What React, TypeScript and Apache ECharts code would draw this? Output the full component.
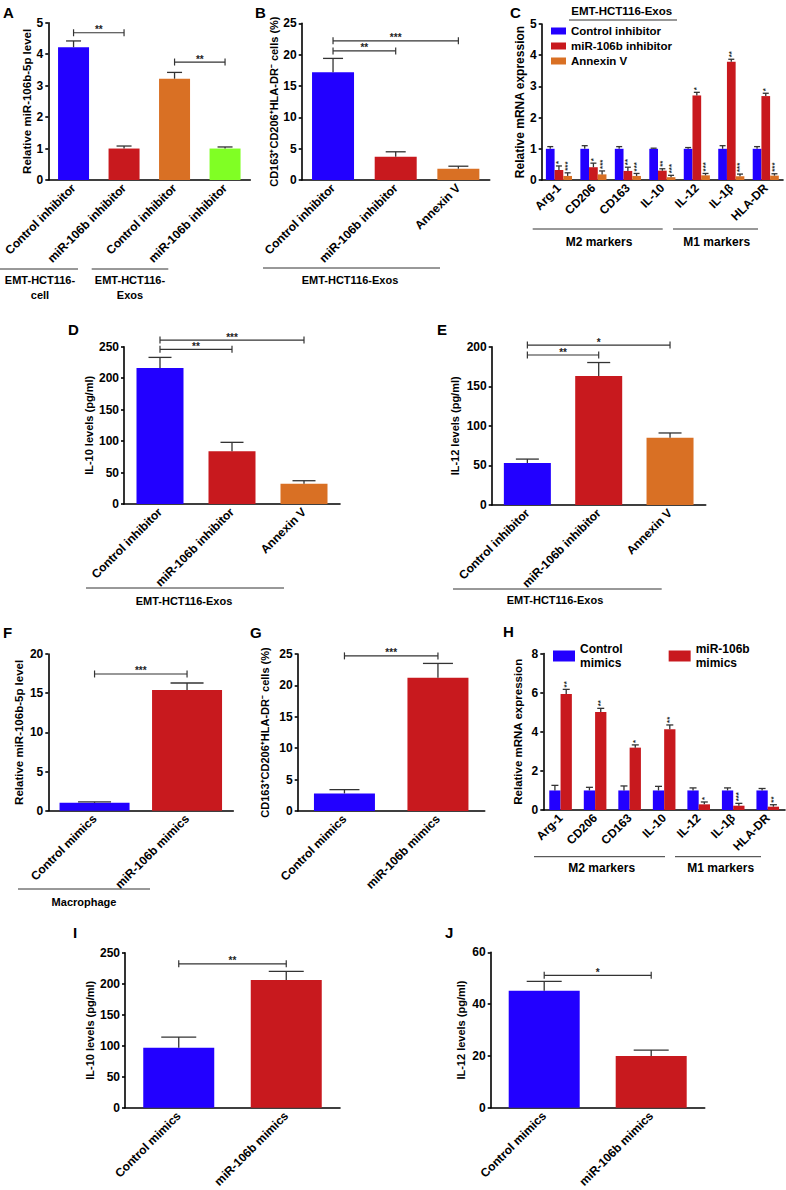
import React, { useEffect, useRef } from "react";
import * as echarts from "echarts";

const FONT = '"Liberation Sans", Arial, Helvetica, sans-serif';

// ---------- Panel A ----------
const aCategories = ["Control inhibitor", "miR-106b inhibitor", "Control inhibitor", "miR-106b inhibitor"];
const aValues = [4.22, 1.0, 3.22, 1.0];
const aErrors = [4.42, 1.08, 3.42, 1.05];
const aBrackets = [[0, 4.68, 1], [2, 3.75, 3]];
const aBracketLabels = ["**", "**"];

// ---------- Panel B ----------
const bCategories = ["Control inhibitor", "miR-106b inhibitor", "Annexin V"];
const bValues = [17.2, 3.7, 1.8];
const bErrors = [19.4, 4.5, 2.2];
const bBrackets = [[0, 22.2, 2], [0, 20.6, 1]];
const bBracketLabels = ["***", "**"];

// ---------- Panel C ----------
const markers = ["Arg-1", "CD206", "CD163", "IL-10", "IL-12", "IL-1β", "HLA-DR"];
const cControl = [1, 1, 1, 1, 1, 1, 1];
const cControlErr = [1.07, 1.1, 1.07, 1.02, 1.04, 1.1, 1.07];
const cInhibitor = [0.32, 0.41, 0.29, 0.3, 2.71, 3.79, 2.69];
const cInhibitorErr = [0.45, 0.54, 0.41, 0.36, 2.81, 3.87, 2.78];
const cInhibitorStars = ["*", "*", "**", "**", "*", "**", "*"];
const cAnnexin = [0.13, 0.18, 0.13, 0.09, 0.15, 0.12, 0.14];
const cAnnexinErr = [0.23, 0.29, 0.21, 0.15, 0.21, 0.19, 0.2];
const cAnnexinStars = ["***", "***", "***", "***", "***", "***", "***"];

// ---------- Panel D ----------
const dValues = [216, 84, 32];
const dErrors = [233, 98, 37];
const dBrackets = [[0, 260.6, 2], [0, 245.8, 1]];
const dBracketLabels = ["***", "**"];

// ---------- Panel E ----------
const eValues = [53, 163, 85];
const eErrors = [58, 180, 91];
const eBrackets = [[0, 202, 2], [0, 189.5, 1]];
const eBracketLabels = ["*", "**"];

// ---------- Panel F ----------
const mimicCategories = ["Control mimics", "miR-106b mimics"];
const fValues = [1.0, 15.4];
const fErrors = [1.12, 16.3];
const fBrackets = [[0, 17.45, 1]];
const fBracketLabels = ["***"];

// ---------- Panel G ----------
const gValues = [2.8, 21.2];
const gErrors = [3.4, 23.5];
const gBrackets = [[0, 24.7, 1]];
const gBracketLabels = ["***"];

// ---------- Panel H ----------
const hControl = [1, 1, 1, 1, 1, 1, 1];
const hControlErr = [1.26, 1.16, 1.23, 1.21, 1.13, 1.13, 1.1];
const hMimics = [5.93, 5.01, 3.19, 4.13, 0.29, 0.22, 0.17];
const hMimicsErr = [6.17, 5.2, 3.33, 4.35, 0.41, 0.34, 0.27];
const hMimicsStars = ["**", "**", "*", "**", "*", "***", "**"];

// ---------- Panel I ----------
const iValues = [97, 206];
const iErrors = [114, 220];
const iBrackets = [[0, 232, 1]];
const iBracketLabels = ["**"];

// ---------- Panel J ----------
const jValues = [45.2, 20];
const jErrors = [48.8, 22.3];
const jBrackets = [[0, 51.1, 1]];
const jBracketLabels = ["*"];

// colours
const BLUE = "#2200FF";
const RED = "#C8191E";
const ORANGE = "#D97024";
const GREEN = "#80FF24";
const INK = "#333333";

function xAx(gi: number, data: string[], fs = 12) {
  return {
    type: "category",
    gridIndex: gi,
    data,
    axisLine: { lineStyle: { color: "#000", width: 1.6 } },
    axisTick: { alignWithLabel: true, length: 3, lineStyle: { color: "#000", width: 1.6 } },
    axisLabel: { rotate: 45, interval: 0, fontSize: fs, fontWeight: "bold", color: "#000", margin: 6, fontFamily: FONT },
    splitLine: { show: false },
  };
}

function yAx(gi: number, max: number, interval: number, name: string, gap: number, nameSize = 11) {
  return {
    type: "value",
    gridIndex: gi,
    min: 0,
    max,
    interval,
    name,
    nameLocation: "middle",
    nameGap: gap,
    nameRotate: 90,
    nameTextStyle: { fontSize: nameSize, fontWeight: "bold", color: "#000", fontFamily: FONT },
    axisLine: { show: true, lineStyle: { color: "#000", width: 1.6 } },
    axisTick: { show: true, length: 3, lineStyle: { color: "#000", width: 1.6 } },
    axisLabel: { fontSize: 12, fontWeight: "bold", color: "#000", margin: 5, fontFamily: FONT },
    splitLine: { show: false },
  };
}

function bars(gi: number, name: string, values: number[], colors: string[], barWidth: number, extra: any = {}) {
  return {
    type: "bar",
    name,
    xAxisIndex: gi,
    yAxisIndex: gi,
    barWidth,
    silent: true,
    data: values.map((v, i) => ({ value: v, itemStyle: { color: colors[i % colors.length] } })),
    ...extra,
  };
}

function errs(gi: number, name: string, values: number[], errors: number[], offset: number, capW: number, stars?: string[]) {
  return {
    type: "custom",
    name,
    xAxisIndex: gi,
    yAxisIndex: gi,
    clip: false,
    silent: true,
    z: 5,
    data: values.map((v, i) => [i, v, errors[i]]),
    renderItem: (params: any, api: any) => {
      const i = api.value(0);
      const p0 = api.coord([i, api.value(1)]);
      const p1 = api.coord([i, api.value(2)]);
      const x = p0[0] + offset;
      const children: any[] = [
        { type: "line", shape: { x1: x, y1: p0[1], x2: x, y2: p1[1] }, style: { stroke: INK, lineWidth: 1.3 } },
        { type: "line", shape: { x1: x - capW / 2, y1: p1[1], x2: x + capW / 2, y2: p1[1] }, style: { stroke: INK, lineWidth: 1.3 } },
      ];
      if (stars) {
        children.push({
          type: "text",
          x: x,
          y: p1[1] - 2,
          rotation: Math.PI / 2,
          style: { text: stars[params.dataIndex], font: `bold 8px ${FONT}`, fill: "#222", align: "left", verticalAlign: "middle" },
        });
      }
      return { type: "group", children };
    },
  };
}

function brackets(gi: number, name: string, list: number[][], labels: string[]) {
  return {
    type: "custom",
    name,
    xAxisIndex: gi,
    yAxisIndex: gi,
    clip: false,
    silent: true,
    z: 6,
    data: list,
    renderItem: (params: any, api: any) => {
      const a = api.coord([api.value(0), api.value(1)]);
      const b = api.coord([api.value(2), api.value(1)]);
      const y = a[1];
      const st = { stroke: INK, lineWidth: 1.2 };
      return {
        type: "group",
        children: [
          { type: "line", shape: { x1: a[0], y1: y, x2: b[0], y2: y }, style: st },
          { type: "line", shape: { x1: a[0], y1: y - 3.5, x2: a[0], y2: y + 3.5 }, style: st },
          { type: "line", shape: { x1: b[0], y1: y - 3.5, x2: b[0], y2: y + 3.5 }, style: st },
          {
            type: "text",
            x: (a[0] + b[0]) / 2,
            y: y + 2,
            style: { text: labels[params.dataIndex], font: `bold 10px ${FONT}`, fill: "#222", align: "center", verticalAlign: "bottom" },
          },
        ],
      };
    },
  };
}

function txt(x: number, y: number, text: string, size = 11, align = "center") {
  return {
    type: "text",
    x,
    y,
    style: { text, font: `bold ${size}px ${FONT}`, fill: "#000", align, verticalAlign: "middle", lineHeight: size + 4 },
  };
}
function hline(x1: number, x2: number, y: number) {
  return { type: "line", shape: { x1, y1: y, x2, y2: y }, style: { stroke: INK, lineWidth: 1 } };
}

export default function App() {
  const ref = useRef<HTMLDivElement>(null);
  useEffect(() => {
    document.body.style.margin = "0";
    const chart = echarts.init(ref.current!, null, { renderer: "svg" });
    const option: any = {
      animation: false,
      textStyle: { fontFamily: FONT },
      grid: [
        { left: 48.3, top: 22.7, width: 202, height: 157.3 }, // A
        { left: 301.7, top: 23.3, width: 188, height: 156.7 }, // B
        { left: 541.7, top: 24, width: 241.3, height: 156 }, // C
        { left: 124, top: 346.7, width: 216, height: 157.3 }, // D
        { left: 491.7, top: 346.7, width: 214, height: 158.3 }, // E
        { left: 48.3, top: 654, width: 185, height: 156.7 }, // F
        { left: 297.7, top: 654, width: 187, height: 157 }, // G
        { left: 543.3, top: 653.6, width: 241.7, height: 156.4 }, // H
        { left: 125, top: 952.7, width: 215, height: 158 }, // I
        { left: 490.7, top: 952.3, width: 214, height: 157.7 }, // J
      ],
      xAxis: [
        xAx(0, aCategories),
        xAx(1, bCategories),
        xAx(2, markers),
        xAx(3, bCategories),
        xAx(4, bCategories),
        xAx(5, mimicCategories),
        xAx(6, mimicCategories),
        xAx(7, markers),
        xAx(8, mimicCategories),
        xAx(9, mimicCategories),
      ],
      yAxis: [
        yAx(0, 5, 1, "Relative miR-106b-5p level", 12, 11.5),
        yAx(1, 25, 5, "CD163⁺CD206⁺HLA-DR⁻ cells (%)", 21),
        yAx(2, 5, 1, "Relative mRNA expression", 15, 12),
        yAx(3, 250, 50, "IL-10 levels (pg/ml)", 30),
        yAx(4, 200, 50, "IL-12 levels (pg/ml)", 31),
        yAx(5, 20, 5, "Relative miR-106b-5p level", 23, 11.5),
        yAx(6, 25, 5, "CD163⁺CD206⁺HLA-DR⁻ cells (%)", 27),
        yAx(7, 8, 2, "Relative mRNA expression", 19, 11.5),
        yAx(8, 250, 50, "IL-10 levels (pg/ml)", 29.5),
        yAx(9, 60, 20, "IL-12 levels (pg/ml)", 24),
      ],
      legend: [
        {
          data: ["Control inhibitor", "miR-106b inhibitor", "Annexin V"],
          orient: "vertical",
          left: 551,
          top: 25,
          padding: 0,
          itemWidth: 15,
          itemHeight: 7,
          itemGap: 3,
          icon: "rect",
          selectedMode: false,
          textStyle: { fontSize: 11.5, fontWeight: "bold", color: "#000", fontFamily: FONT },
        },
        {
          data: ["Control mimics", "miR-106b mimics"],
          orient: "horizontal",
          left: 553,
          top: 642,
          padding: 0,
          itemWidth: 22,
          itemHeight: 11,
          itemGap: 46,
          icon: "rect",
          selectedMode: false,
          formatter: (n: string) => n.replace(" ", "\n"),
          textStyle: { fontSize: 12, fontWeight: "bold", color: "#000", lineHeight: 14, fontFamily: FONT },
        },
      ],
      series: [
        // A
        bars(0, "A bars", aValues, [BLUE, RED, ORANGE, GREEN], 31),
        errs(0, "A err", aValues, aErrors, 0, 15),
        brackets(0, "A sig", aBrackets, aBracketLabels),
        // B
        bars(1, "B bars", bValues, [BLUE, RED, ORANGE], 42),
        errs(1, "B err", bValues, bErrors, 0, 20),
        brackets(1, "B sig", bBrackets, bBracketLabels),
        // C
        bars(2, "Control inhibitor", cControl, [BLUE], 8.7, { barGap: "0%", itemStyle: { color: BLUE } }),
        bars(2, "miR-106b inhibitor", cInhibitor, [RED], 8.7, { barGap: "0%", itemStyle: { color: RED } }),
        bars(2, "Annexin V", cAnnexin, [ORANGE], 8.7, { barGap: "0%", itemStyle: { color: ORANGE } }),
        errs(2, "C err1", cControl, cControlErr, -8.7, 6),
        errs(2, "C err2", cInhibitor, cInhibitorErr, 0, 6, cInhibitorStars),
        errs(2, "C err3", cAnnexin, cAnnexinErr, 8.7, 6, cAnnexinStars),
        // D
        bars(3, "D bars", dValues, [BLUE, RED, ORANGE], 47),
        errs(3, "D err", dValues, dErrors, 0, 23),
        brackets(3, "D sig", dBrackets, dBracketLabels),
        // E
        bars(4, "E bars", eValues, [BLUE, RED, ORANGE], 47),
        errs(4, "E err", eValues, eErrors, 0, 23),
        brackets(4, "E sig", eBrackets, eBracketLabels),
        // F
        bars(5, "F bars", fValues, [BLUE, RED], 70),
        errs(5, "F err", fValues, fErrors, 0, 33),
        brackets(5, "F sig", fBrackets, fBracketLabels),
        // G
        bars(6, "G bars", gValues, [BLUE, RED], 61),
        errs(6, "G err", gValues, gErrors, 0, 30),
        brackets(6, "G sig", gBrackets, gBracketLabels),
        // H
        bars(7, "Control mimics", hControl, [BLUE], 11.3, { barGap: "0%", itemStyle: { color: BLUE } }),
        bars(7, "miR-106b mimics", hMimics, [RED], 11.3, { barGap: "0%", itemStyle: { color: RED } }),
        errs(7, "H err1", hControl, hControlErr, -5.65, 7),
        errs(7, "H err2", hMimics, hMimicsErr, 5.65, 7, hMimicsStars),
        // I
        bars(8, "I bars", iValues, [BLUE, RED], 71),
        errs(8, "I err", iValues, iErrors, 0, 35),
        brackets(8, "I sig", iBrackets, iBracketLabels),
        // J
        bars(9, "J bars", jValues, [BLUE, RED], 71),
        errs(9, "J err", jValues, jErrors, 0, 35),
        brackets(9, "J sig", jBrackets, jBracketLabels),
      ],
      graphic: [
        // panel letters
        txt(3, 12, "A", 15, "left"),
        txt(255, 12, "B", 15, "left"),
        txt(510, 12, "C", 15, "left"),
        txt(68, 329, "D", 15, "left"),
        txt(437, 329, "E", 15, "left"),
        txt(3, 632, "F", 15, "left"),
        txt(250, 632, "G", 15, "left"),
        txt(503, 631, "H", 15, "left"),
        txt(73, 932, "I", 15, "left"),
        txt(445, 932, "J", 15, "left"),
        // A group lines
        hline(0, 78, 269),
        txt(40, 287.5, "EMT-HCT116-\ncell", 11),
        hline(91.7, 168.3, 269),
        txt(130, 287.5, "EMT-HCT116-\nExos", 11),
        // B
        hline(263, 440, 268),
        txt(350, 280, "EMT-HCT116-Exos", 11),
        // C
        txt(621.7, 11, "EMT-HCT116-Exos", 11.5),
        hline(569, 677, 20),
        hline(532.7, 662.7, 229),
        txt(599, 241.7, "M2 markers", 12),
        hline(673, 758, 229),
        txt(716.7, 241.7, "M1 markers", 12),
        // D
        hline(86, 284, 588),
        txt(184, 600.7, "EMT-HCT116-Exos", 11),
        // E
        hline(453, 661.7, 589),
        txt(555, 600, "EMT-HCT116-Exos", 11),
        // F
        hline(18, 150, 889),
        txt(84, 901.7, "Macrophage", 11),
        // H
        hline(534, 665, 856.7),
        txt(601.7, 868, "M2 markers", 12),
        hline(675, 761, 856.7),
        txt(720.7, 868, "M1 markers", 12),
      ],
    };
    chart.setOption(option);
    return () => chart.dispose();
  }, []);
  return <div ref={ref} style={{ position: "absolute", left: 0, top: 0, width: 786, height: 1190, background: "#fff" }} />;
}
